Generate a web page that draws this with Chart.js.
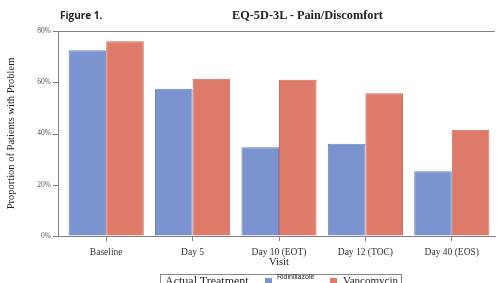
<!DOCTYPE html>
<html>
<head>
<meta charset="utf-8">
<script src="https://cdn.jsdelivr.net/npm/chart.js@4"></script>
<style>
  html, body { margin: 0; padding: 0; background: #fff; }
  #wrap { position: relative; width: 498px; height: 283px; overflow: hidden; }
  #fig { position: absolute; left: 60px; top: 8px; font: bold 10px "Open Sans", sans-serif; color: #222; }
  #title { position: absolute; left: 232px; top: 8px; font: bold 12.3px "Liberation Serif", serif; color: #222; white-space: nowrap; }
  #legend { position: absolute; left: 160px; top: 274px; width: 242px; height: 16px; border: 1px solid #888;
    box-sizing: border-box; font-family: "Liberation Serif", serif; color: #222; white-space: nowrap; }
  #legend span { position: absolute; top: -1px; }
  .sw { position: absolute; top: 3px; width: 7px; height: 7px; }
</style>
</head>
<body>
<div id="wrap">
  <canvas id="canvas" width="498" height="283"></canvas>
  <div id="fig">Figure 1.</div>
  <div id="title">EQ-5D-3L - Pain/Discomfort</div>
  <div id="legend">
    <span style="left:4px;font-size:12px;">Actual Treatment</span>
    <div class="sw" style="left:104px;background:#7b93cf;"></div>
    <span style="left:116px;top:-2px;font:7px 'Liberation Sans',sans-serif;">Ridinillazole</span>
    <div class="sw" style="left:169px;background:#de7a6a;"></div>
    <span style="left:182px;font-size:11px;">Vancomycin</span>
  </div>
</div>
<script>
const visits = ['Baseline', 'Day 5', 'Day 10 (EOT)', 'Day 12 (TOC)', 'Day 40 (EOS)'];
const ridinilazole = [72.5, 57.5, 34.6, 36, 25.3];
const vancomycin = [76, 61.4, 61, 55.7, 41.5];
const yTicks = [0, 20, 40, 60, 80];

const axisX = 58;     // where the y axis line sits (the bars start a little to the right of it)

// draws the y axis line, its tick marks and the top frame line
const frame = {
  id: 'frame',
  afterDraw(chart) {
    const a = chart.chartArea;
    const ctx = chart.ctx;
    const y = chart.scales.y;
    ctx.save();
    ctx.strokeStyle = '#808080';
    ctx.lineWidth = 1;
    ctx.beginPath();
    ctx.moveTo(axisX + 0.5, a.top);
    ctx.lineTo(axisX + 0.5, a.bottom);
    ctx.moveTo(axisX, a.top + 0.5);
    ctx.lineTo(a.right, a.top + 0.5);
    ctx.moveTo(axisX, Math.round(a.bottom) + 0.5);
    ctx.lineTo(a.left + 1, Math.round(a.bottom) + 0.5);
    yTicks.forEach(v => {
      const py = Math.round(y.getPixelForValue(v)) + 0.5;
      ctx.moveTo(axisX - 5, py);
      ctx.lineTo(axisX + 1, py);
    });
    ctx.stroke();
    ctx.restore();
  }
};

const serif = '"Liberation Serif", serif';

const config = {
  type: 'bar',
  data: {
    labels: visits,
    datasets: [
      {
        label: 'Ridinillazole',
        data: ridinilazole,
        backgroundColor: '#7b93cf',
        borderColor: '#6a82c2',
        borderWidth: 1
      },
      {
        label: 'Vancomycin',
        data: vancomycin,
        backgroundColor: '#de7a6a',
        borderColor: '#d06a5a',
        borderWidth: 1
      }
    ]
  },
  options: {
    responsive: false,
    animation: false,
    layout: { padding: { left: 0, right: 3, top: 31, bottom: 14 } },
    datasets: { bar: { categoryPercentage: 0.87, barPercentage: 1 } },
    plugins: {
      legend: { display: false },
      tooltip: { enabled: false },
      title: { display: false }
    },
    scales: {
      x: {
        grid: { display: true, drawOnChartArea: false, offset: false, tickLength: 5, color: '#808080' },
        border: { color: '#808080' },
        ticks: { color: '#333', padding: 6, font: { family: serif, size: 9.5 } },
        title: { display: true, text: 'Visit', color: '#222', font: { family: serif, size: 10.5 }, padding: { top: 0, bottom: 0 } },
        afterFit: s => { s.height = 33; }
      },
      y: {
        min: 0,
        max: 80,
        afterBuildTicks: s => { s.ticks = yTicks.map(v => ({ value: v })); },
        grid: { display: true, drawOnChartArea: false, tickLength: 10, color: 'rgba(0,0,0,0)' },
        border: { display: false },
        ticks: { color: '#555', padding: 2, font: { family: serif, size: 7.5 }, callback: v => v + '%' },
        title: { display: true, text: 'Proportion of Patients with Problem', color: '#222', font: { family: serif, size: 10.5 }, padding: { top: 5, bottom: 0 } },
        afterFit: s => { s.width = 63; }
      }
    }
  },
  plugins: [frame]
};

const chart = new Chart(document.getElementById('canvas'), config);
</script>
</body>
</html>
